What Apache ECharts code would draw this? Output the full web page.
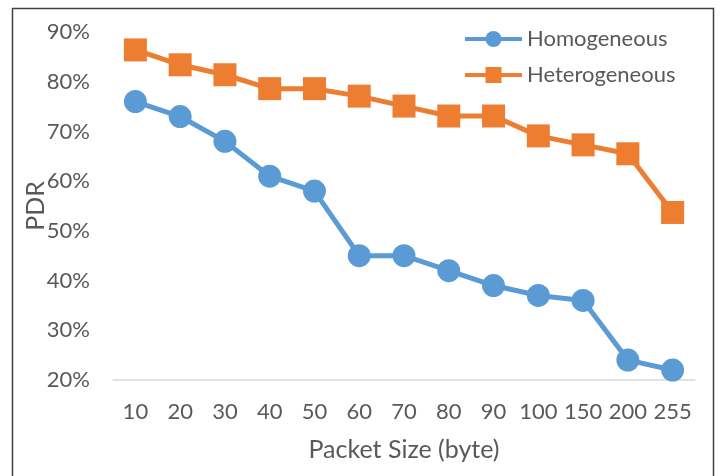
<!DOCTYPE html>
<html><head><meta charset="utf-8">
<script src="https://cdn.jsdelivr.net/npm/echarts@6/dist/echarts.min.js"></script>
<style>html,body{margin:0;padding:0;background:#fff}#c{width:726px;height:476px}</style>
</head><body><div id="c"></div>
<script>
var categories = ['10','20','30','40','50','60','70','80','90','100','150','200','255'];
var homogeneous = [76, 73, 68, 61, 58, 45, 45, 42, 39, 37, 36, 24, 22];
var heterogeneous = [86.4, 83.4, 81.4, 78.6, 78.6, 77.1, 75.1, 73.1, 73.1, 69.1, 67.3, 65.5, 53.7];
var yTicks = [20, 30, 40, 50, 60, 70, 80, 90];

var font = 'Lato, "Open Sans", sans-serif';
var chart = echarts.init(document.getElementById('c'));
chart.setOption({
  animation: false,
  graphic: [{type:'rect', shape:{x:12.5, y:8.5, width:701, height:480}, style:{fill:'none', stroke:'#404040', lineWidth:1.5}}],
  grid: {left:113, right:31, top:32, bottom:96},
  legend: {
    left: 458, top: 23, orient: 'vertical', itemGap: 14, itemWidth: 57, itemHeight: 20,
    lineStyle: {width: 4},
    textStyle: {fontFamily: font, fontSize: 22, lineHeight: 20, color: '#595959'},
    data: ['Homogeneous', 'Heterogeneous']
  },
  xAxis: {
    type: 'category', data: categories, boundaryGap: true,
    axisLine: {lineStyle: {color: '#d9d9d9', width: 1.5}},
    axisTick: {show: false},
    axisLabel: {fontFamily: font, fontSize: 22, color: '#595959', margin: 21, interval: 0, hideOverlap: false},
    name: 'Packet Size (byte)', nameLocation: 'middle', nameGap: 57, nameMoveOverlap: false,
    nameTextStyle: {fontFamily: font, fontSize: 25, color: '#595959'}
  },
  yAxis: {
    type: 'value', min: 20, max: 90, interval: 10,
    axisLine: {show: false}, axisTick: {show: false}, splitLine: {show: false},
    axisLabel: {fontFamily: font, fontSize: 22, color: '#595959', margin: 23, formatter: function(v){return v + '%';}},
    name: 'PDR', nameLocation: 'middle', nameGap: 65, nameMoveOverlap: false,
    nameTextStyle: {fontFamily: font, fontSize: 25, color: '#595959'}
  },
  series: [
    {name: 'Homogeneous', type: 'line', data: homogeneous, symbol: 'circle', symbolSize: 23,
     lineStyle: {color: '#5B9BD5', width: 5}, itemStyle: {color: '#5B9BD5'}},
    {name: 'Heterogeneous', type: 'line', data: heterogeneous, symbol: 'rect', symbolSize: 23,
     lineStyle: {color: '#ED7D31', width: 5}, itemStyle: {color: '#ED7D31'}}
  ]
});
</script></body></html>
